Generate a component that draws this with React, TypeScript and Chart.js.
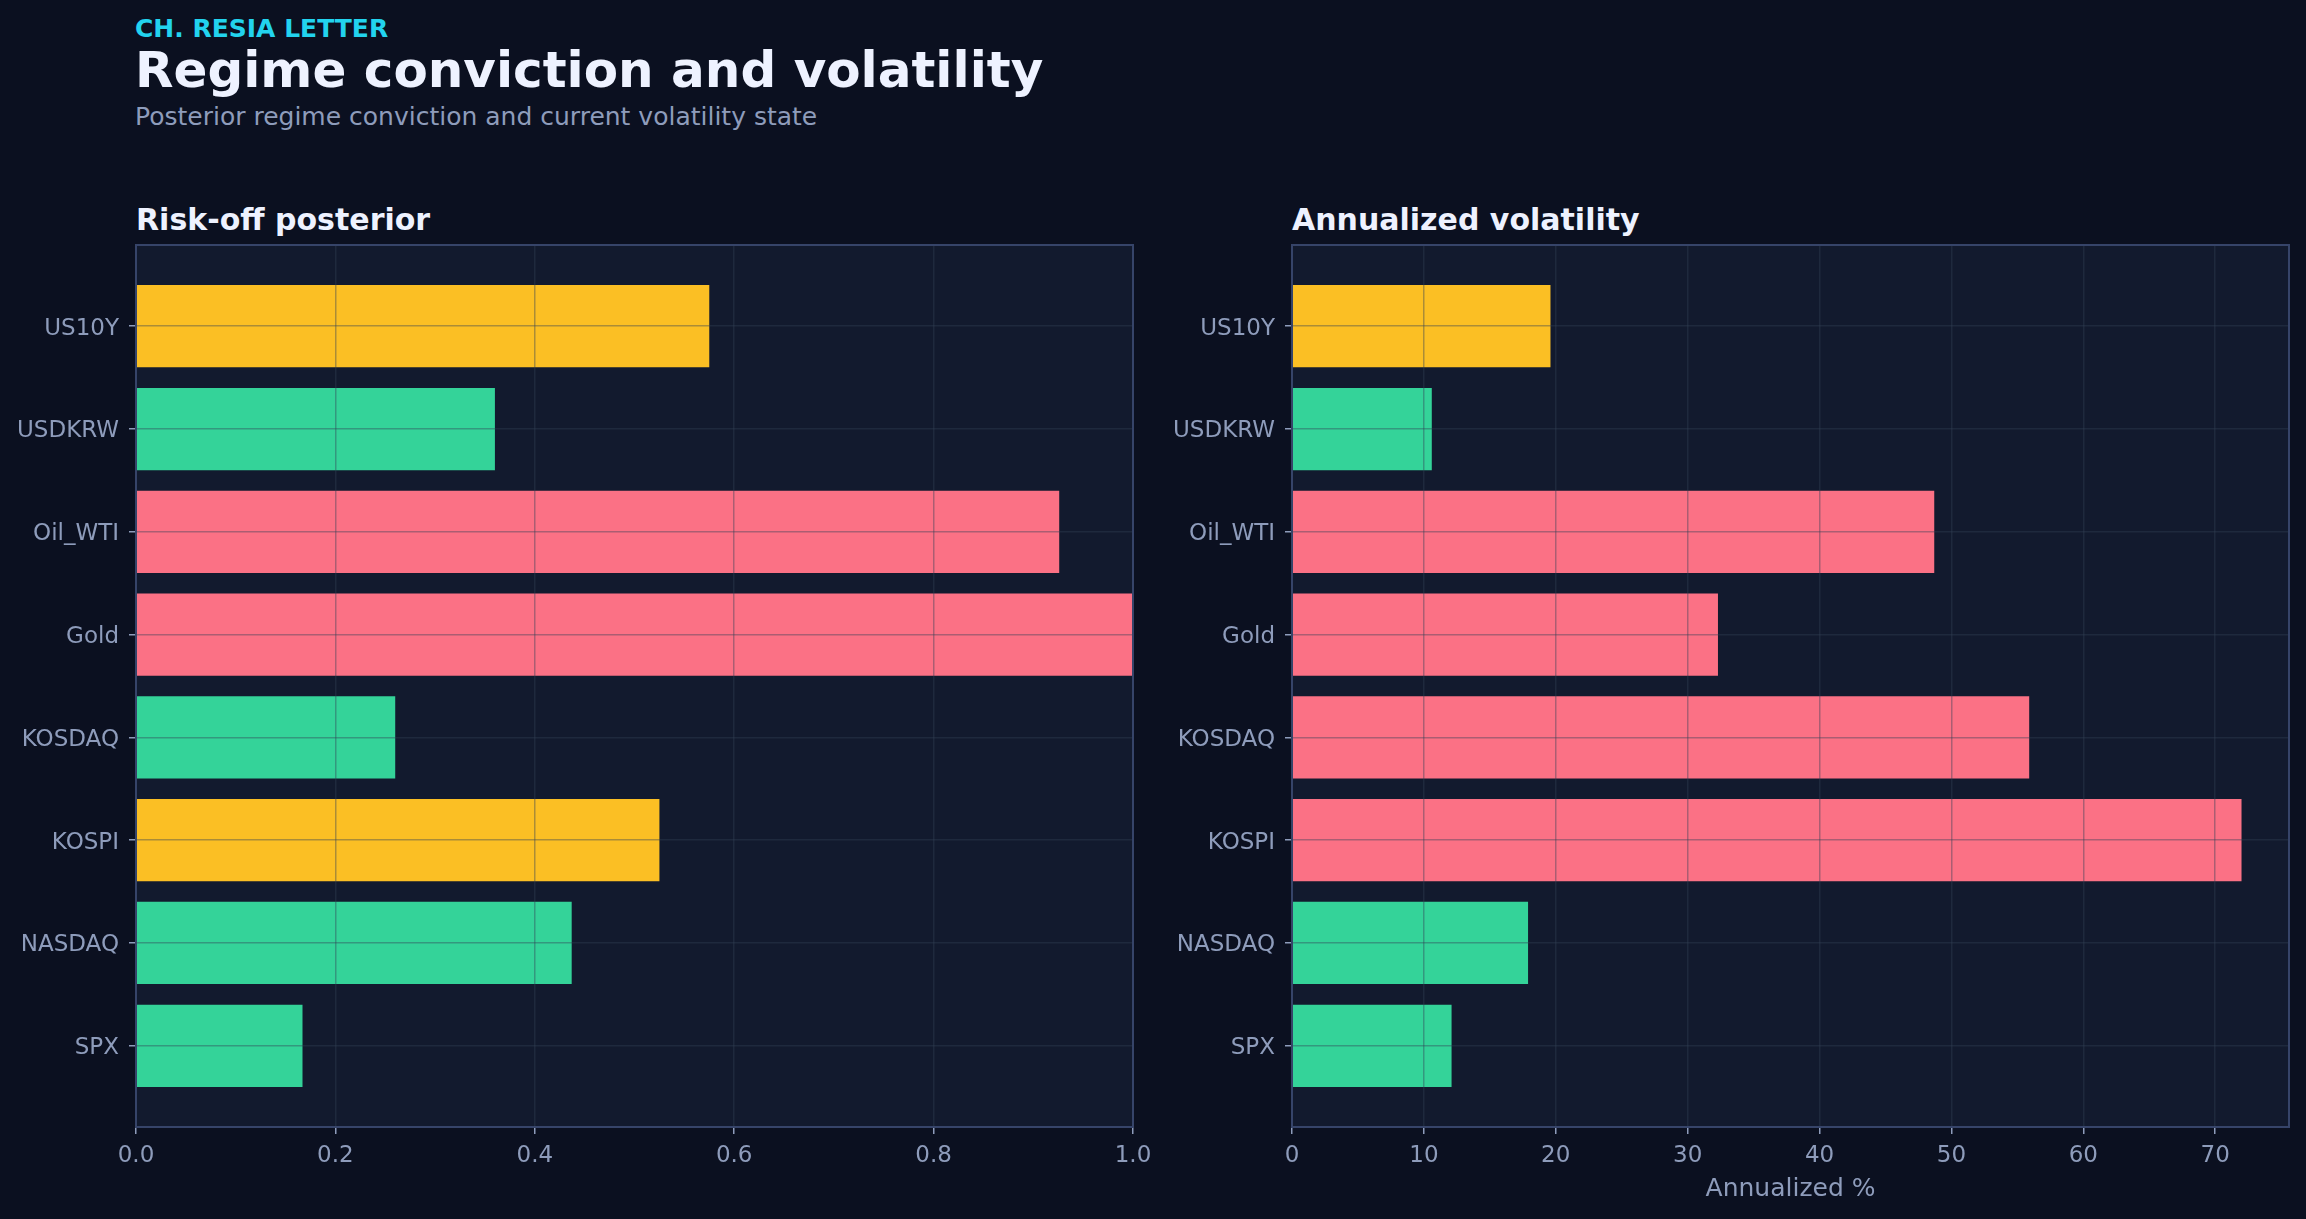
import React, { useEffect, useRef } from "react";
import { Chart, registerables } from "chart.js";

Chart.register(...registerables);

// ---------- data ----------
const categories = ["SPX", "NASDAQ", "KOSPI", "KOSDAQ", "Gold", "Oil_WTI", "USDKRW", "US10Y"];
const posteriorValues = [0.167, 0.437, 0.525, 0.26, 1.0, 0.926, 0.36, 0.575];
const volatilityValues = [12.1, 17.9, 72.0, 55.9, 32.3, 48.7, 10.6, 19.6];
const posteriorStates = ["calm", "calm", "mid", "calm", "risk", "risk", "calm", "mid"];
const volatilityStates = ["calm", "calm", "risk", "risk", "risk", "risk", "calm", "mid"];
const posteriorTicks = [0, 0.2, 0.4, 0.6, 0.8, 1.0];
const volatilityTicks = [0, 10, 20, 30, 40, 50, 60, 70];
const posteriorAxisMax = 1.0;
const volatilityAxisMax = 75.6;

// ---------- style ----------
const FONT = "'DejaVu Sans', 'Noto Sans', sans-serif";
const PAGE_BG = "#0b1020";
const PLOT_BG = "#121a2e";
const BORDER = "#364469";
const GRID = "rgba(51, 65, 85, 0.4)";
const TICK = "#8e9cbb";
const TITLE = "#eef2ff";
const ACCENT = "#22d3ee";
const STATE_COLORS: Record<string, string> = {
  calm: "#34d399",
  mid: "#fbbf24",
  risk: "#fb7185",
};

const panelPlugin = {
  id: "panelFrame",
  beforeDraw(chart: any) {
    const { ctx, chartArea } = chart;
    const { left, top, right, bottom } = chartArea;
    ctx.save();
    ctx.fillStyle = PLOT_BG;
    ctx.fillRect(left, top, right - left, bottom - top);
    ctx.restore();
  },
  afterDraw(chart: any) {
    const { ctx, chartArea } = chart;
    const { left, top, right, bottom } = chartArea;
    ctx.save();
    ctx.strokeStyle = BORDER;
    ctx.lineWidth = 2;
    ctx.strokeRect(left, top, right - left, bottom - top);
    ctx.restore();
  },
};

type PanelProps = {
  values: number[];
  states: string[];
  max: number;
  ticks: number[];
  format: (v: number) => string;
  axisTitle?: string;
  yAxisWidth: number;
  padRight: number;
  width: number;
  height: number;
  left: number;
  top: number;
};

function BarPanel(p: PanelProps) {
  const ref = useRef<HTMLCanvasElement | null>(null);
  useEffect(() => {
    if (!ref.current) return;
    const gridOpts = {
      color: GRID,
      lineWidth: 1.5,
      offset: false,
      drawTicks: true,
      tickLength: 7,
      tickColor: TICK,
      tickWidth: 1.5,
      z: 1,
    };
    const chart = new Chart(ref.current, {
      type: "bar",
      data: {
        datasets: [
          {
            data: categories.map((_, i) => ({ x: p.values[i], y: i })) as any,
            backgroundColor: p.states.map((s) => STATE_COLORS[s]),
            borderWidth: 0,
            barPercentage: 0.8,
            categoryPercentage: 1.0,
          },
        ],
      },
      options: {
        indexAxis: "y",
        responsive: false,
        maintainAspectRatio: false,
        animation: false,
        devicePixelRatio: 1,
        layout: { padding: { top: 15, right: p.padRight, bottom: 0, left: 0 } },
        plugins: {
          legend: { display: false },
          tooltip: { enabled: false },
          title: { display: false },
        },
        scales: {
          x: {
            type: "linear",
            min: 0,
            max: p.max,
            offset: false,
            z: 1,
            afterBuildTicks: (s: any) => {
              s.ticks = p.ticks.map((v) => ({ value: v }));
            },
            afterFit: (s: any) => {
              s.height = 92;
              s.paddingLeft = 0;
              s.paddingRight = 0;
            },
            grid: gridOpts,
            border: { display: false },
            ticks: {
              color: TICK,
              font: { family: FONT, size: 23 },
              padding: 8,
              maxRotation: 0,
              autoSkip: false,
              callback: (v: any) => p.format(Number(v)),
            },
            title: {
              display: !!p.axisTitle,
              text: p.axisTitle || "",
              color: TICK,
              font: { family: FONT, size: 25 },
              padding: { top: 0, bottom: 15 },
            },
          },
          y: {
            type: "linear",
            min: -0.79,
            max: 7.79,
            offset: false,
            z: 1,
            afterBuildTicks: (s: any) => {
              s.ticks = categories.map((_, i) => ({ value: i }));
            },
            afterFit: (s: any) => {
              s.width = p.yAxisWidth;
              s.paddingTop = 0;
              s.paddingBottom = 0;
            },
            grid: gridOpts,
            border: { display: false },
            ticks: {
              color: TICK,
              font: { family: FONT, size: 23 },
              padding: 10,
              labelOffset: 2.5,
              autoSkip: false,
              callback: (v: any) => categories[Math.round(Number(v))] ?? "",
            },
          },
        },
      } as any,
      plugins: [panelPlugin],
    });
    return () => chart.destroy();
  }, []);
  return (
    <canvas
      ref={ref}
      width={p.width}
      height={p.height}
      style={{
        position: "absolute",
        left: p.left,
        top: p.top,
        width: p.width,
        height: p.height,
        display: "block",
      }}
    />
  );
}

function Text(props: {
  text: string;
  left: number;
  top: number;
  size: number;
  bold?: boolean;
  color: string;
  spacing?: number;
}) {
  return (
    <div
      style={{
        position: "absolute",
        left: props.left,
        top: props.top,
        fontFamily: FONT,
        fontSize: props.size,
        fontWeight: props.bold ? 700 : 400,
        lineHeight: 1,
        color: props.color,
        whiteSpace: "nowrap",
        letterSpacing: props.spacing ?? 0,
      }}
    >
      {props.text}
    </div>
  );
}

export default function App() {
  return (
    <div
      style={{
        position: "absolute",
        left: 0,
        top: 0,
        width: 2306,
        height: 1219,
        background: PAGE_BG,
        overflow: "hidden",
      }}
    >
      <Text text="CH. RESIA LETTER" left={135} top={15.5} size={25} bold color={ACCENT} />
      <Text text="Regime conviction and volatility" left={135} top={45} size={50} bold color={TITLE} />
      <Text
        text="Posterior regime conviction and current volatility state"
        left={135}
        top={104}
        size={25}
        color={TICK}
      />
      <Text text="Risk-off posterior" left={136} top={205} size={30} bold color={TITLE} />
      <Text text="Annualized volatility" left={1292} top={205} size={30} bold color={TITLE} />
      <BarPanel
        values={posteriorValues}
        states={posteriorStates}
        max={posteriorAxisMax}
        ticks={posteriorTicks}
        format={(v) => v.toFixed(1)}
        yAxisWidth={136}
        padRight={27}
        width={1160}
        height={989}
        left={0}
        top={230}
      />
      <BarPanel
        values={volatilityValues}
        states={volatilityStates}
        max={volatilityAxisMax}
        ticks={volatilityTicks}
        format={(v) => String(Math.round(v))}
        axisTitle="Annualized %"
        yAxisWidth={132}
        padRight={17}
        width={1146}
        height={989}
        left={1160}
        top={230}
      />
    </div>
  );
}
